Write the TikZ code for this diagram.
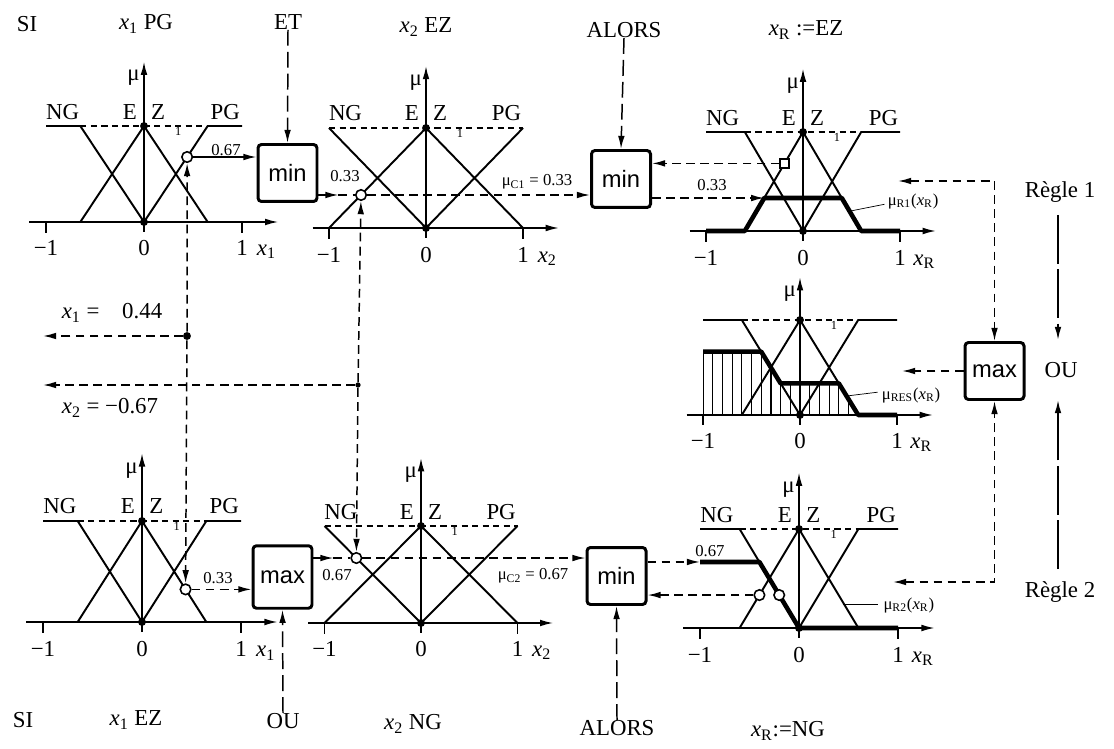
\documentclass[tikz,border=0pt]{standalone}
\usepackage{fontspec}
\setmainfont{Liberation Serif}
\newfontfamily\boxfont{Liberation Sans}
\usetikzlibrary{arrows.meta,calc}
\tikzset{
 mf/.style={line width=1.1pt},
 thk/.style={line width=2.6pt, line join=round},
 axl/.style={line width=0.85pt},
 dsh/.style={line width=0.85pt, dash pattern=on 5pt off 3pt},
 ldsh/.style={line width=0.85pt, dash pattern=on 9pt off 3.5pt},
 rl/.style={line width=0.9pt, dash pattern=on 28pt off 3pt},
 topd/.style={line width=0.65pt, dash pattern=on 3.5pt off 2.5pt},
 arr/.style={-{Latex[length=7.5pt,width=3.8pt]}},
 barr/.style={{Latex[length=7.5pt,width=3.8pt]}-{Latex[length=7.5pt,width=3.8pt]}},
 lbl/.style={font=\fontsize{13}{15}\selectfont, inner sep=0pt},
 sm/.style={font=\fontsize{9.5}{11}\selectfont, inner sep=0pt},
 op/.style={draw, line width=1.7pt, rounded corners=2pt, minimum width=1.18cm, minimum height=1.14cm, inner sep=0pt, font=\boxfont\fontsize{13.5}{15}\selectfont},
 dot/.style={circle, fill, inner sep=0pt, minimum size=4.5pt},
 odot/.style={circle, draw, fill=white, line width=0.9pt, inner sep=0pt, minimum size=6pt},
 osq/.style={rectangle, draw, fill=white, line width=0.9pt, inner sep=0pt, minimum size=5pt},
}
\newcommand{\mfnames}[1]{%
 \node[lbl,anchor=base] (#1NG) at (-0.83,1.07) {NG};
 \node[lbl,anchor=base east] (#1E) at (-0.07,1.07) {E};
 \node[lbl,anchor=base west] (#1Z) at (0.07,1.07) {Z};
 \node[lbl,anchor=base] (#1PG) at (0.83,1.07) {PG};}
\newcommand{\mfgraph}[8]{%
\begin{scope}[shift={#2}, xscale=#3, yscale=-#4]
 \draw[axl,arr] (-1.17,0) -- (1.37,0);
 \draw[axl,arr] (0,-0.1) -- (0,#8);
 \draw[axl] (-1,0) -- (-1,-0.11) (1,0) -- (1,-0.11);
 \draw[topd] (-#5,1) -- (#5,1);
 \draw[mf] (-1,1) -- (-#5,1) -- (0,0) (-#5,0) -- (0,1) -- (#5,0) (0,0) -- (#5,1) -- (1,1);
 #7
 \node[dot] (#1top) at (0,1) {};
 \node[dot] (#1org) at (0,0) {};
 \node[lbl,anchor=east] (#1mu) at (-0.04,#8-0.17) {μ};
 \node[lbl] (#1m1) at (-1,-0.27) {−1};
 \node[lbl] (#1z) at (0,-0.27) {0};
 \node[lbl] (#1p1) at (1,-0.27) {1};
 \node[lbl] (#1var) at (1.25,-0.31) {#6};
 \node[font=\fontsize{7}{8}\selectfont, inner sep=0pt, anchor=north] (#1one) at (0.35,0.985) {1};
\end{scope}}
\begin{document}
\begin{tikzpicture}[x=0.02cm,y=-0.02cm]
\fill[white] (0,0) rectangle (1114,749);
\useasboundingbox (0,0) rectangle (1114,749);

% ---------- graphs ----------
\mfgraph{G1}{(144,222)}{98}{96}{0.65}{\textit{x}\textsubscript{1}}{\mfnames{G1}\node[odot] (c1) at (0.44,0.677) {};}{1.67}
\mfgraph{G2}{(426,228)}{97}{100}{1}{\textit{x}\textsubscript{2}}{\mfnames{G2}\node[odot] (c2) at (-0.67,0.33) {};}{1.62}
\mfgraph{G3}{(803,231)}{97}{99}{0.6}{\textit{x}\textsubscript{R}}{\mfnames{G3}
 \draw[thk] (-1,0) -- (-0.6,0) -- (-0.4,0.333) -- (0.4,0.333) -- (0.6,0) -- (1,0);
 \coordinate (k3) at (-0.4,0.333);
 \node[osq] (s3) at (-0.19,0.683) {};
 \draw[thin] (0.48,0.2) -- (0.84,0.27);
 \node[sm,anchor=west] (muR1) at (0.87,0.3) {μ\textsubscript{R1}(\textit{x}\textsubscript{R})};}{1.64}
\mfgraph{G4}{(800,415)}{97}{95}{0.6}{\textit{x}\textsubscript{R}}{
 \begin{scope}
 \clip (-1,0) -- (-1,0.667) -- (-0.4,0.667) -- (-0.2,0.333) -- (0.4,0.333) -- (0.6,0) -- cycle;
 \foreach \h in {-1,-0.9,...,0.65} \draw[line width=0.7pt] (\h,0) -- (\h,1);
 \end{scope}
 \draw[thk] (-1,0.667) -- (-0.4,0.667) -- (-0.2,0.333) -- (0.4,0.333) -- (0.6,0) -- (1,0);
 \draw[thin] (0.48,0.2) -- (0.8,0.24);
 \node[sm,anchor=west] (muRES) at (0.84,0.21) {μ\textsubscript{RES}(\textit{x}\textsubscript{R})};}{1.45}
\mfgraph{G5}{(799,628)}{99}{99}{0.6}{\textit{x}\textsubscript{R}}{\mfnames{G5}
 \draw[thk] (-1,0.667) -- (-0.4,0.667) -- (0,0) -- (1,0);
 \coordinate (k5) at (-1,0.667);
 \node[odot] (c5a) at (-0.4,0.333) {};
 \node[odot] (c5b) at (-0.2,0.333) {};
 \node[sm] (l067c) at (-0.9,0.78) {0.67};
 \draw[thin] (0.44,0.24) -- (0.8,0.24);
 \node[sm,anchor=west] (muR2) at (0.85,0.23) {μ\textsubscript{R2}(\textit{x}\textsubscript{R})};}{1.57}
\mfgraph{G6}{(142,622)}{99}{101}{0.65}{\textit{x}\textsubscript{1}}{\mfnames{G6}\node[odot] (c6) at (0.44,0.323) {};}{1.67}
\mfgraph{G7}{(421,623)}{96.5}{97}{1}{\textit{x}\textsubscript{2}}{\mfnames{G7}\node[odot] (c7) at (-0.67,0.67) {};}{1.7}

% ---------- operator boxes ----------
\node[op] (min1) at (287.5,173) {min};
\node[op] (min2) at (621,179) {min};
\node[op, minimum height=1.25cm] (max1) at (282.5,577) {max};
\node[op] (min3) at (616.5,576) {min};
\node[op] (max2) at (994.5,371) {max};

% ---------- texts ----------
\node[lbl] (SIt) at (27,24) {SI};
\node[lbl] (x1t) at (146,24) {\textit{x}\textsubscript{1} PG};
\node[lbl] (ET) at (288,22) {ET};
\node[lbl] (x2t) at (426,27) {\textit{x}\textsubscript{2} EZ};
\node[lbl] (ALt) at (624,30) {ALORS};
\node[lbl] (xRt) at (806,30) {\textit{x}\textsubscript{R} :=EZ};
\node[lbl] (SIb) at (23,720) {SI};
\node[lbl] (x1b) at (136,720) {\textit{x}\textsubscript{1} EZ};
\node[lbl] (OUb) at (283,721) {OU};
\node[lbl] (x2b) at (413,724) {\textit{x}\textsubscript{2} NG};
\node[lbl] (ALb) at (617,728) {ALORS};
\node[lbl] (xRb) at (788,731) {\textit{x}\textsubscript{R}:=NG};
\node[lbl] (R1) at (1060,192) {Règle 1};
\node[lbl] (OUr) at (1061,370) {OU};
\node[lbl] (R2) at (1060,592) {Règle 2};
\node[lbl] (x1v) at (112,313) {\textit{x}\textsubscript{1} =\quad 0.44};
\node[lbl] (x2v) at (110,408) {\textit{x}\textsubscript{2} = −0.67};
\node[sm] (l067a) at (226,150) {0.67};
\node[sm] (l033a) at (345,176) {0.33};
\node[sm] (muC1) at (537,182) {μ\textsubscript{C1} = 0.33};
\node[sm] (l033b) at (712,185) {0.33};
\node[sm] (l033c) at (218,578) {0.33};
\node[sm] (l067b) at (337,575) {0.67};
\node[sm] (muC2) at (533,576) {μ\textsubscript{C2} = 0.67};

% ---------- input values ----------
\node[dot] (X1) at (187,336) {};
\node[dot, minimum size=3pt] (X2) at (358,385) {};
\coordinate (X1l) at (43,336);
\coordinate (X2l) at (43,385);
\draw[dsh,arr] (X1) -- (X1l);
\draw[dsh,arr] (X2) -- (X2l);
\draw[dsh,arr] (X1) -- (c1);
\draw[dsh,arr] (X1) -- (c6);
\draw[dsh,arr] (X2) -- (c2);
\draw[dsh,arr] (X2) -- (c7);

% ---------- rule 1 ----------
\draw[ldsh,arr] (ET.south) -- (min1.north);
\draw[axl,arr] (c1) -- (c1 -| min1.west);
\draw[axl,arr] (min1.east |- c2) -- ($(min1.east |- c2)+(20,0)$);
\draw[dsh] ($(min1.east |- c2)+(20,0)$) -- (c2);
\draw[dsh,arr] (c2) -- (c2 -| min2.west);
\draw[ldsh,arr] (ALt.south) -- (min2.north);
\draw[dsh,arr] (s3) -- (s3 -| min2.east);
\draw[dsh,arr] (min2.east |- k3) -- (k3);

% ---------- rule 2 ----------
\draw[dsh,arr] (c6) -- (c6 -| max1.west);
\draw[ldsh,arr] (OUb.north) -- (max1.south);
\draw[axl,arr] (max1.east |- c7) -- ($(max1.east |- c7)+(20,0)$);
\draw[dsh] ($(max1.east |- c7)+(20,0)$) -- (c7);
\draw[dsh,arr] (c7) -- (c7 -| min3.west);
\draw[ldsh,arr] (ALb.north) -- (min3.south);
\draw[dsh,arr] (min3.east |- k5) -- (k5);
\draw[dsh,arr] (c5a) -- (c5a -| min3.east);

% ---------- aggregation ----------
\coordinate (r1) at (898,181);
\coordinate (r2) at (893,582);
\coordinate (r4) at (902,371);
\draw[dsh,barr] (r1) -| (max2.north);
\draw[dsh,barr] (r2) -| (max2.south);
\draw[dsh,arr] (max2.west) -- (r4);
\draw[rl,arr] ($(R1.south)+(-2,12)$) -- ($(OUr.north)+(-3,-22)$);
\draw[rl,arr] ($(R2.north)+(-2,-12)$) -- ($(OUr.south)+(-3,22)$);
\end{tikzpicture}
\end{document}
